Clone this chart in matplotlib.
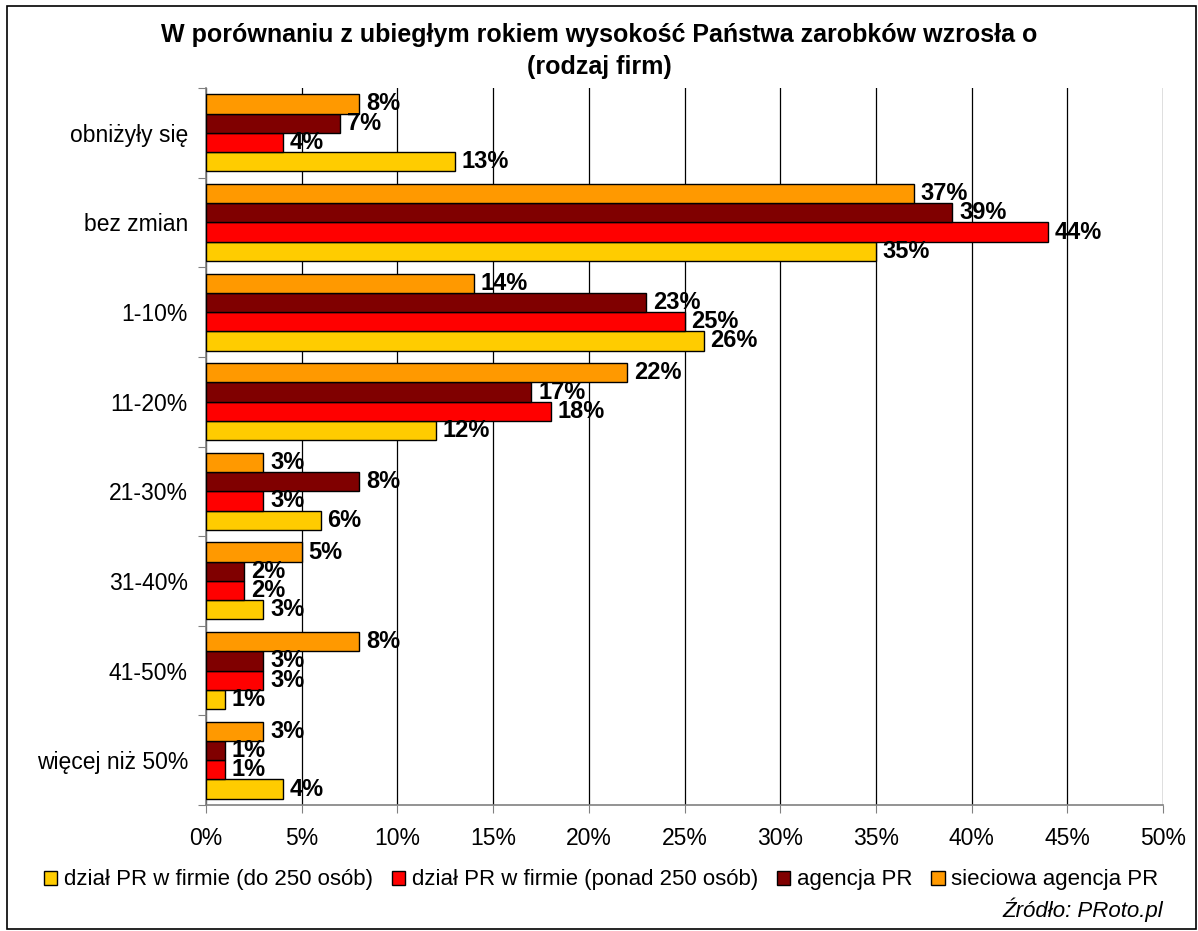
import matplotlib
matplotlib.use("Agg")
import matplotlib.pyplot as plt
import numpy as np
from matplotlib.patches import Rectangle

plt.rcParams['font.family'] = ['Liberation Sans', 'DejaVu Sans']

categories = ["obniżyły się", "bez zmian", "1-10%", "11-20%", "21-30%",
              "31-40%", "41-50%", "więcej niż 50%"]
series_names = ["dział PR w firmie (do 250 osób)", "dział PR w firmie (ponad 250 osób)",
                "agencja PR", "sieciowa agencja PR"]
do_250 = [13, 35, 26, 12, 6, 3, 1, 4]
ponad_250 = [4, 44, 25, 18, 3, 2, 3, 1]
agencja = [7, 39, 23, 17, 8, 2, 3, 1]
sieciowa = [8, 37, 14, 22, 3, 5, 8, 3]
xticks = [0, 5, 10, 15, 20, 25, 30, 35, 40, 45, 50]

colors = ["#FFCC00", "#FF0000", "#800000", "#FF9900"]
values = [do_250, ponad_250, agencja, sieciowa]

W, H = 1198, 931
fig = plt.figure(figsize=(W / 100, H / 100), dpi=100)
ax = fig.add_axes([206 / W, 1 - 805 / H, (1163 - 206) / W, (805 - 88) / H])

h = 0.215
offsets = [1.5 * h, 0.5 * h, -0.5 * h, -1.5 * h]
yc = np.arange(len(categories)) + 0.5
handles = []
for vals, col, off, name in zip(values, colors, offsets, series_names):
    b = ax.barh(yc + off, vals, height=h, color=col, edgecolor="black",
                linewidth=1.0, label=name, zorder=3)
    handles.append(b)
    for y, v in zip(yc + off, vals):
        ax.text(v + 0.35, y, f"{v}%", va="center", ha="left", fontsize=17,
                fontweight="bold", zorder=4)

ax.set_xlim(0, 50)
ax.set_ylim(len(categories), 0)
ax.set_xticks(xticks)
ax.set_xticklabels([f"{t}%" for t in xticks], fontsize=16.5)
ax.xaxis.grid(True, color="black", linewidth=0.9, zorder=0)
ax.set_axisbelow(True)

ax.set_yticks(np.arange(len(categories) + 1))
ax.set_yticklabels([])
ax.set_yticks(yc, minor=True)
ax.set_yticklabels(categories, minor=True, fontsize=16.5)
ax.tick_params(axis="y", which="minor", length=0, pad=13)
ax.tick_params(axis="y", which="major", length=6, color="#808080", direction="out")
ax.tick_params(axis="x", length=6, color="#808080", direction="out", pad=10)

for s in ["top", "right"]:
    ax.spines[s].set_visible(False)
for s in ["left", "bottom"]:
    ax.spines[s].set_color("#808080")
    ax.spines[s].set_linewidth(1.2)

fig.text(0.5, 1 - 23 / H, "W porównaniu z ubiegłym rokiem wysokość Państwa zarobków wzrosła o\n(rodzaj firm)",
         ha="center", va="top", fontsize=18, fontweight="bold", linespacing=1.4)

fig.legend(handles=handles, loc="center", bbox_to_anchor=(0.502, 1 - 880 / H), ncol=4,
           frameon=False, fontsize=16, handlelength=0.6, handleheight=0.6,
           handletextpad=0.3, columnspacing=0.85, borderpad=0)

fig.text(1163 / W, 1 - 910 / H, "Źródło: PRoto.pl", ha="right", va="center",
         fontsize=16, style="italic")

fig.patches.append(Rectangle((7 / W, 1 - 929 / H), (1196 - 7) / W, (929 - 6) / H,
                             transform=fig.transFigure, fill=False,
                             edgecolor="black", linewidth=1.2))

fig.savefig("out.png", dpi=100)
